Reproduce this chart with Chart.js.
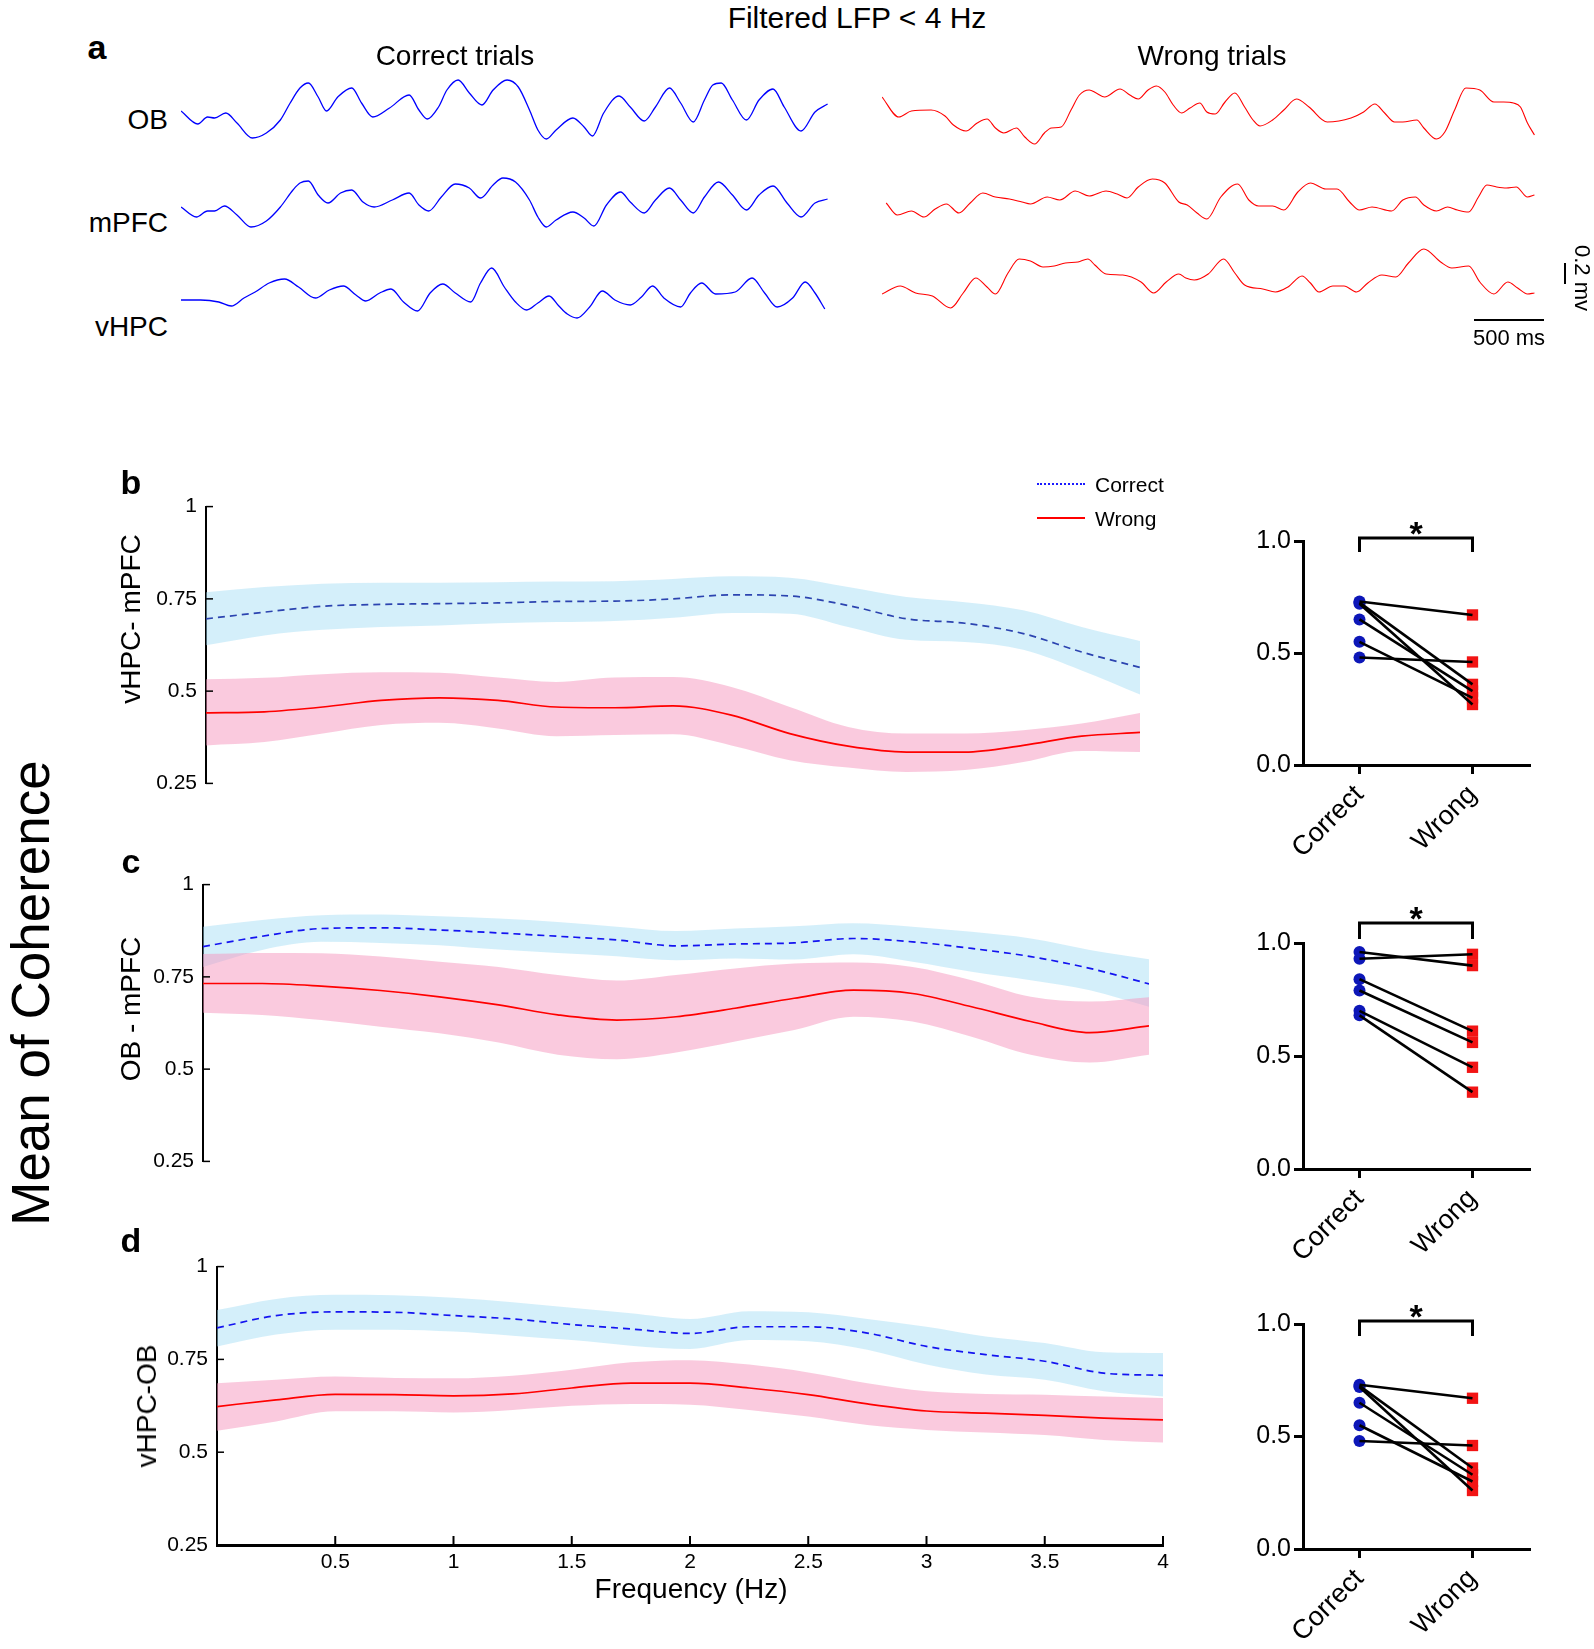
<!DOCTYPE html>
<html>
<head>
<meta charset="utf-8">
<script src="https://cdn.jsdelivr.net/npm/chart.js@4.4.1/dist/chart.umd.min.js"></script>
<style>
  body { margin: 0; background: #fff; width: 1594px; height: 1649px; position: relative; overflow: hidden;
         font-family: "Liberation Sans", Arial, sans-serif; color: #000; }
  canvas { position: absolute; }
  .t { position: absolute; white-space: nowrap; line-height: 1; }
  .bar { position: absolute; background: #000; }
</style>
</head>
<body>
<script>
// ---------- panel a: filtered LFP traces, [time ms, amplitude mV] ----------
const correctOB = [[0,-0.01],[120,-0.14],[190,-0.07],[240,-0.08],[320,-0.03],[400,-0.13],[510,-0.28],[610,-0.23],[710,-0.10],[780,0.07],[850,0.22],[910,0.27],[980,0.13],[1040,-0.01],[1120,0.13],[1220,0.22],[1290,0.07],[1370,-0.07],[1490,0.02],[1630,0.15],[1700,0.00],[1760,-0.09],[1840,0.03],[1900,0.20],[1980,0.30],[2060,0.17],[2150,0.05],[2230,0.20],[2330,0.30],[2410,0.23],[2490,0.00],[2550,-0.20],[2610,-0.29],[2680,-0.20],[2800,-0.08],[2880,-0.17],[2940,-0.26],[3020,-0.03],[3130,0.14],[3210,0.03],[3310,-0.11],[3390,0.03],[3490,0.22],[3570,0.07],[3660,-0.12],[3740,0.10],[3800,0.25],[3860,0.27],[3940,0.10],[4040,-0.10],[4130,0.10],[4230,0.21],[4310,0.03],[4430,-0.21],[4530,-0.02],[4620,0.06]];
const correctMPFC = [[0,-0.07],[110,-0.17],[190,-0.11],[240,-0.11],[310,-0.06],[400,-0.15],[500,-0.27],[610,-0.21],[710,-0.07],[800,0.10],[850,0.17],[910,0.19],[980,0.05],[1050,-0.03],[1140,0.07],[1220,0.10],[1300,-0.02],[1380,-0.07],[1510,0.00],[1630,0.07],[1700,-0.05],[1770,-0.11],[1860,0.03],[1960,0.16],[2060,0.12],[2140,0.02],[2230,0.15],[2300,0.22],[2390,0.18],[2490,0.00],[2550,-0.17],[2610,-0.27],[2680,-0.20],[2800,-0.12],[2880,-0.18],[2950,-0.26],[3040,-0.05],[3140,0.08],[3210,-0.02],[3310,-0.13],[3390,0.00],[3490,0.12],[3570,0.00],[3660,-0.13],[3740,0.03],[3840,0.18],[3940,0.05],[4040,-0.10],[4130,0.05],[4230,0.14],[4330,-0.03],[4430,-0.17],[4530,-0.03],[4620,0.01]];
const correctVHPC = [[0,-0.10],[140,-0.10],[270,-0.12],[360,-0.16],[450,-0.08],[530,-0.02],[630,0.07],[740,0.11],[840,0.03],[960,-0.08],[1060,0.00],[1160,0.04],[1250,-0.05],[1320,-0.11],[1420,-0.03],[1500,0.01],[1590,-0.12],[1690,-0.21],[1780,-0.03],[1870,0.06],[1960,-0.03],[2070,-0.12],[2140,0.07],[2220,0.22],[2310,0.03],[2390,-0.12],[2470,-0.20],[2550,-0.13],[2630,-0.06],[2700,-0.16],[2760,-0.24],[2830,-0.28],[2920,-0.17],[3010,-0.01],[3100,-0.10],[3210,-0.15],[3290,-0.07],[3370,0.04],[3450,-0.08],[3570,-0.17],[3640,-0.03],[3720,0.07],[3820,-0.04],[3960,-0.02],[4080,0.12],[4170,-0.03],[4260,-0.17],[4370,-0.08],[4460,0.08],[4530,-0.03],[4600,-0.19]];
const wrongOB = [[0,0.13],[120,-0.07],[210,-0.01],[350,0.00],[450,-0.06],[510,-0.15],[600,-0.21],[680,-0.13],[750,-0.09],[810,-0.18],[870,-0.23],[960,-0.18],[1020,-0.27],[1090,-0.34],[1160,-0.23],[1210,-0.18],[1280,-0.17],[1350,0.00],[1410,0.15],[1480,0.20],[1530,0.17],[1590,0.13],[1700,0.21],[1770,0.15],[1830,0.11],[1900,0.20],[1960,0.24],[2020,0.18],[2080,0.05],[2140,-0.03],[2200,0.02],[2270,0.07],[2320,-0.02],[2380,-0.04],[2450,0.08],[2520,0.17],[2590,0.03],[2650,-0.10],[2700,-0.16],[2790,-0.10],[2870,0.00],[2960,0.11],[3050,0.03],[3180,-0.12],[3350,-0.08],[3440,-0.02],[3520,0.06],[3590,-0.03],[3660,-0.12],[3720,-0.12],[3820,-0.10],[3870,-0.18],[3960,-0.29],[4020,-0.22],[4090,0.00],[4170,0.22],[4270,0.20],[4370,0.08],[4440,0.08],[4510,0.07],[4560,0.03],[4610,-0.13],[4660,-0.25]];
const wrongMPFC = [[30,-0.03],[110,-0.15],[210,-0.11],[300,-0.17],[380,-0.09],[460,-0.04],[550,-0.13],[630,-0.03],[720,0.07],[810,0.03],[910,0.01],[1000,-0.02],[1060,-0.04],[1180,0.03],[1270,0.00],[1380,0.09],[1480,0.04],[1600,0.09],[1680,0.06],[1750,0.02],[1830,0.13],[1930,0.21],[2020,0.17],[2120,-0.02],[2180,-0.05],[2250,-0.13],[2320,-0.19],[2420,0.03],[2540,0.16],[2620,0.00],[2690,-0.06],[2790,-0.06],[2870,-0.10],[2970,0.08],[3060,0.17],[3170,0.11],[3250,0.11],[3340,-0.02],[3410,-0.10],[3500,-0.07],[3640,-0.11],[3720,0.00],[3810,0.03],[3870,-0.05],[3960,-0.11],[4040,-0.07],[4110,-0.10],[4190,-0.12],[4260,0.03],[4320,0.15],[4390,0.13],[4460,0.12],[4530,0.13],[4610,0.03],[4660,0.05]];
const wrongVHPC = [[0,-0.14],[130,-0.06],[240,-0.13],[360,-0.16],[490,-0.28],[580,-0.13],[670,0.02],[750,-0.07],[810,-0.14],[900,0.07],[980,0.21],[1060,0.19],[1150,0.13],[1230,0.14],[1310,0.17],[1400,0.18],[1470,0.21],[1520,0.15],[1600,0.06],[1720,0.05],[1850,-0.02],[1940,-0.13],[2030,-0.02],[2120,0.06],[2170,0.02],[2230,0.00],[2330,0.06],[2440,0.21],[2520,0.07],[2590,-0.05],[2720,-0.09],[2810,-0.12],[2900,-0.07],[3000,0.04],[3060,-0.03],[3120,-0.12],[3220,-0.06],[3300,-0.06],[3390,-0.12],[3470,-0.03],[3570,0.05],[3670,0.03],[3760,0.17],[3870,0.31],[3990,0.18],[4070,0.12],[4190,0.14],[4270,-0.02],[4370,-0.14],[4470,-0.02],[4540,-0.08],[4610,-0.14],[4660,-0.13]];

// ---------- panels b-d: mean coherence vs frequency ----------
const freqs = [0,0.25,0.5,0.75,1,1.25,1.5,1.75,2,2.25,2.5,2.75,3,3.25,3.5,3.75,4];
const freqYTicks = ['0.25','0.5','0.75','1'];
const freqXTicks = ['','0.5','1','1.5','2','2.5','3','3.5','4'];

const bCorrect   = [0.696,0.714,0.730,0.735,0.737,0.739,0.743,0.744,0.750,0.761,0.758,0.732,0.696,0.684,0.656,0.606,0.564];
const bCorrectHi = [0.768,0.782,0.791,0.794,0.794,0.795,0.797,0.798,0.804,0.811,0.807,0.782,0.755,0.741,0.719,0.674,0.636];
const bCorrectLo = [0.624,0.651,0.666,0.674,0.678,0.684,0.687,0.690,0.699,0.712,0.710,0.674,0.639,0.633,0.612,0.556,0.491];
const bWrong     = [0.441,0.444,0.457,0.475,0.482,0.475,0.457,0.455,0.460,0.435,0.385,0.351,0.335,0.335,0.353,0.378,0.388];
const bWrongHi   = [0.532,0.536,0.546,0.551,0.550,0.537,0.525,0.537,0.538,0.511,0.457,0.403,0.385,0.385,0.394,0.412,0.441];
const bWrongLo   = [0.353,0.362,0.385,0.408,0.414,0.399,0.378,0.381,0.383,0.353,0.313,0.293,0.281,0.286,0.308,0.338,0.335];

const cCorrect   = [0.832,0.860,0.881,0.883,0.877,0.869,0.860,0.850,0.834,0.839,0.842,0.854,0.845,0.827,0.805,0.773,0.731];
const cCorrectHi = [0.886,0.904,0.917,0.919,0.914,0.908,0.899,0.886,0.874,0.881,0.887,0.895,0.886,0.872,0.854,0.823,0.798];
const cCorrectLo = [0.777,0.823,0.845,0.842,0.836,0.824,0.815,0.806,0.795,0.800,0.797,0.811,0.791,0.764,0.741,0.714,0.669];
const cWrong     = [0.732,0.732,0.725,0.713,0.696,0.674,0.647,0.633,0.642,0.665,0.692,0.714,0.705,0.669,0.629,0.599,0.617];
const cWrongHi   = [0.812,0.815,0.814,0.805,0.791,0.777,0.755,0.740,0.755,0.773,0.786,0.789,0.777,0.741,0.696,0.683,0.695];
const cWrongLo   = [0.653,0.647,0.633,0.615,0.597,0.572,0.539,0.527,0.545,0.575,0.606,0.642,0.629,0.588,0.539,0.518,0.539];

const dCorrect   = [0.835,0.868,0.878,0.877,0.868,0.859,0.844,0.832,0.820,0.838,0.838,0.821,0.785,0.763,0.745,0.713,0.707];
const dCorrectHi = [0.883,0.913,0.924,0.923,0.916,0.904,0.889,0.874,0.859,0.880,0.877,0.859,0.838,0.812,0.794,0.769,0.767];
const dCorrectLo = [0.785,0.817,0.830,0.830,0.825,0.814,0.802,0.787,0.778,0.802,0.799,0.776,0.736,0.709,0.695,0.664,0.650];
const dWrong     = [0.623,0.641,0.656,0.655,0.652,0.657,0.673,0.686,0.686,0.673,0.655,0.630,0.611,0.605,0.599,0.592,0.587];
const dWrongHi   = [0.686,0.695,0.704,0.700,0.699,0.706,0.722,0.742,0.748,0.736,0.715,0.686,0.664,0.657,0.655,0.650,0.646];
const dWrongLo   = [0.558,0.583,0.610,0.610,0.607,0.614,0.625,0.630,0.628,0.614,0.596,0.573,0.560,0.553,0.546,0.533,0.526];

// ---------- right column: per-animal mean coherence ----------
const pairCats = ['Correct', 'Wrong'];
const pairYTicks = ['0.0', '0.5', '1.0'];
const bPairCorrect = [0.73, 0.725, 0.72, 0.65, 0.55, 0.48];
const bPairWrong   = [0.67, 0.36, 0.27, 0.33, 0.30, 0.46];
const cPairCorrect = [0.96, 0.93, 0.84, 0.79, 0.70, 0.68];
const cPairWrong   = [0.90, 0.95, 0.61, 0.56, 0.45, 0.34];
const dPairCorrect = [0.73, 0.725, 0.72, 0.65, 0.55, 0.48];
const dPairWrong   = [0.67, 0.36, 0.26, 0.33, 0.30, 0.46];

// ---------- colours ----------
const blueBand = 'rgba(160,220,245,0.45)';
const pinkBand = 'rgba(245,150,190,0.5)';
const dotBlue = '#0d17b8';
const dotRed = '#f21414';

Chart.defaults.font.family = '"Liberation Sans", Arial, sans-serif';
Chart.defaults.color = '#000';
Chart.defaults.animation = false;
Chart.defaults.responsive = false;
Chart.defaults.devicePixelRatio = 1;
Chart.defaults.plugins.legend.display = false;
Chart.defaults.plugins.tooltip.enabled = false;

function makeCanvas(left, top, w, h) {
  const c = document.createElement('canvas');
  c.width = w; c.height = h;
  c.style.left = left + 'px'; c.style.top = top + 'px';
  c.style.width = w + 'px'; c.style.height = h + 'px';
  document.body.appendChild(c);
  return c;
}

function traceChart(left, width, xMax, traces, offsets, color, lw) {
  new Chart(makeCanvas(left, 60, width, 280), {
    type: 'line',
    data: {
      datasets: traces.map((tr, i) => ({
        data: tr.map(p => ({ x: p[0], y: p[1] + offsets[i] })),
        borderColor: color, borderWidth: lw, pointRadius: 0,
        cubicInterpolationMode: 'monotone', fill: false
      }))
    },
    options: {
      layout: { padding: 0 },
      scales: {
        x: { type: 'linear', display: false, min: 0, max: xMax },
        y: { type: 'linear', display: false, min: -2.8, max: 0 }
      }
    }
  });
}

// MATLAB-style ticks pointing into the plot
const innerTicks = {
  id: 'innerTicks',
  afterDraw(chart, args, opts) {
    const { ctx, chartArea: a, scales: { x, y } } = chart;
    ctx.save();
    ctx.strokeStyle = '#000';
    ctx.lineWidth = 1.5;
    y.ticks.forEach(t => {
      const py = y.getPixelForValue(t.value);
      ctx.beginPath(); ctx.moveTo(a.left, py); ctx.lineTo(a.left + 7, py); ctx.stroke();
    });
    if (opts.x) {
      ctx.lineWidth = 2;
      x.ticks.forEach(t => {
        const px = x.getPixelForValue(t.value);
        ctx.beginPath(); ctx.moveTo(px, a.bottom); ctx.lineTo(px, a.bottom - 9); ctx.stroke();
      });
    }
    ctx.restore();
  }
};

// y tick labels reserve half a line + padding above and below the plot (~21px)
function freqChart(cfg) {
  const pts = arr => freqs.map((f, i) => ({ x: f, y: arr[i] }));
  const none = 'rgba(0,0,0,0)';
  new Chart(makeCanvas(cfg.left, cfg.top, cfg.w, cfg.h), {
    type: 'line',
    data: {
      datasets: [
        { data: pts(cfg.wrong), borderColor: '#ff0000', borderWidth: 1.7 },
        { data: pts(cfg.correct), borderColor: cfg.blue, borderWidth: 1.7, borderDash: [7, 5] },
        { data: pts(cfg.wrongHi), borderColor: none, borderWidth: 1, fill: '+1', backgroundColor: pinkBand },
        { data: pts(cfg.wrongLo), borderColor: none, borderWidth: 1 },
        { data: pts(cfg.correctHi), borderColor: none, borderWidth: 1, fill: '+1', backgroundColor: blueBand },
        { data: pts(cfg.correctLo), borderColor: none, borderWidth: 1 }
      ]
    },
    options: {
      elements: { point: { radius: 0 }, line: { cubicInterpolationMode: 'monotone', fill: false } },
      layout: { padding: { top: 0, right: 20, bottom: 0, left: 0 } },
      scales: {
        x: {
          type: 'linear', min: 0, max: 4, display: cfg.showX,
          grid: { display: false, drawTicks: false },
          border: { color: '#000', width: 3 },
          ticks: { stepSize: 0.5, padding: 5, font: { size: 21 }, maxRotation: 0, autoSkip: false,
                   callback: v => freqXTicks[Math.round(v / 0.5)] },
          afterFit: s => { if (cfg.showX) s.height = 80; }
        },
        y: {
          type: 'linear', min: 0.25, max: 1,
          grid: { display: false, drawTicks: false },
          border: { color: '#000', width: 2 },
          ticks: { stepSize: 0.25, padding: 9, font: { size: 21 },
                   callback: v => freqYTicks[Math.round((v - 0.25) / 0.25)] },
          afterFit: s => { s.width = 66; }
        }
      },
      plugins: { innerTicks: { x: cfg.showX } }
    },
    plugins: [innerTicks]
  });
}

// significance bracket with star
const bracket = {
  id: 'bracket',
  afterDraw(chart, args, o) {
    const { ctx, scales: { x, y } } = chart;
    const x0 = x.getPixelForValue(0), x1 = x.getPixelForValue(1);
    const yt = y.getPixelForValue(o.top), yl = y.getPixelForValue(o.leg);
    ctx.save();
    ctx.strokeStyle = '#000'; ctx.lineWidth = 3;
    ctx.beginPath(); ctx.moveTo(x0, yl); ctx.lineTo(x0, yt); ctx.lineTo(x1, yt); ctx.lineTo(x1, yl); ctx.stroke();
    ctx.fillStyle = '#000';
    ctx.font = 'bold 34px "Liberation Sans", Arial, sans-serif';
    ctx.textAlign = 'center'; ctx.textBaseline = 'middle';
    ctx.fillText('*', (x0 + x1) / 2, yt - 2);
    ctx.restore();
  }
};

function pairChart(cfg) {
  const lines = cfg.correct.map((c, i) => ({
    data: [c, cfg.wrong[i]], borderColor: '#000', borderWidth: 2.6, pointRadius: 0
  }));
  new Chart(makeCanvas(1215, cfg.top, 340, cfg.h), {
    type: 'line',
    data: {
      labels: pairCats,
      datasets: [
        ...lines,
        { data: cfg.correct.map(v => ({ x: pairCats[0], y: v })), showLine: false, pointStyle: 'circle',
          pointRadius: 6, pointBackgroundColor: dotBlue, pointBorderColor: dotBlue, pointBorderWidth: 0 },
        { data: cfg.wrong.map(v => ({ x: pairCats[1], y: v })), showLine: false, pointStyle: 'rect',
          pointRadius: 8, pointBackgroundColor: dotRed, pointBorderColor: dotRed, pointBorderWidth: 0 }
      ]
    },
    options: {
      layout: { padding: { top: cfg.padTop, right: 26, left: 0, bottom: 0 } },
      scales: {
        x: {
          type: 'category', offset: true,
          grid: { display: true, drawOnChartArea: false, drawTicks: true, tickLength: 9, color: '#000', lineWidth: 3, offset: false },
          border: { color: '#000', width: 3 },
          ticks: { font: { size: 27 }, minRotation: 45, maxRotation: 45, padding: 5, autoSkip: false },
          afterFit: s => { s.height = cfg.xh; }
        },
        y: {
          type: 'linear', min: 0, max: 1,
          grid: { display: true, drawOnChartArea: false, drawTicks: true, tickLength: 9, color: '#000', lineWidth: 3 },
          border: { color: '#000', width: 3 },
          ticks: { stepSize: 0.5, padding: 3, font: { size: 25 }, callback: v => pairYTicks[Math.round(v * 2)] },
          afterFit: s => { s.width = 88; }
        }
      },
      plugins: { bracket: { top: cfg.bTop, leg: cfg.bLeg } }
    },
    plugins: [bracket]
  });
}

function txt(s, x, y, size, o = {}) {
  const d = document.createElement('div');
  d.className = 't';
  d.textContent = s;
  d.style.left = x + 'px';
  d.style.top = y + 'px';
  d.style.fontSize = size + 'px';
  if (o.bold) d.style.fontWeight = 'bold';
  const ax = o.align === 'right' ? '-100%' : o.align === 'left' ? '0' : '-50%';
  d.style.transform = 'translate(' + ax + ',-50%)' + (o.rot ? ' rotate(' + o.rot + 'deg)' : '');
  document.body.appendChild(d);
}

function bar(left, top, w, h, style) {
  const d = document.createElement('div');
  d.className = 'bar';
  d.style.left = left + 'px'; d.style.top = top + 'px';
  d.style.width = w + 'px'; d.style.height = h + 'px';
  if (style) Object.assign(d.style, style);
  document.body.appendChild(d);
}

// ---- panel a ----
traceChart(181, 648, 4630, [correctOB, correctMPFC, correctVHPC], [-0.5, -1.4, -2.3], '#0000ff', 1.3);
traceChart(882, 653, 4664, [wrongOB, wrongMPFC, wrongVHPC], [-0.5, -1.4, -2.2], '#ff0000', 1.1);

// ---- panels b, c, d ----
freqChart({ left: 140, top: 485, w: 1020, h: 320, showX: false, blue: '#2c44b0',
  correct: bCorrect, correctHi: bCorrectHi, correctLo: bCorrectLo, wrong: bWrong, wrongHi: bWrongHi, wrongLo: bWrongLo });
freqChart({ left: 137, top: 863, w: 1032, h: 320, showX: false, blue: '#1414f0',
  correct: cCorrect, correctHi: cCorrectHi, correctLo: cCorrectLo, wrong: cWrong, wrongHi: cWrongHi, wrongLo: cWrongLo });
freqChart({ left: 151, top: 1245, w: 1032, h: 380, showX: true, blue: '#1414f0',
  correct: dCorrect, correctHi: dCorrectHi, correctLo: dCorrectLo, wrong: dWrong, wrongHi: dWrongHi, wrongLo: dWrongLo });

pairChart({ top: 500, h: 400, padTop: 41, xh: 135, bTop: 1.013, bLeg: 0.951, correct: bPairCorrect, wrong: bPairWrong });
pairChart({ top: 895, h: 400, padTop: 48, xh: 126, bTop: 1.088, bLeg: 1.018, correct: cPairCorrect, wrong: cPairWrong });
pairChart({ top: 1280, h: 369, padTop: 44, xh: 100, bTop: 1.013, bLeg: 0.947, correct: dPairCorrect, wrong: dPairWrong });

// ---- text ----
txt('Filtered LFP < 4 Hz', 857, 18, 30);
txt('a', 97, 47, 34, { bold: true });
txt('Correct trials', 455, 56, 28);
txt('Wrong trials', 1212, 56, 28);
txt('OB', 168, 120, 28, { align: 'right' });
txt('mPFC', 168, 223, 28, { align: 'right' });
txt('vHPC', 168, 327, 28, { align: 'right' });
bar(1474, 319, 70, 2);
bar(1564, 263, 2, 21);
txt('500 ms', 1509, 338, 22);
txt('0.2 mv', 1582, 278, 22, { rot: 90 });

txt('b', 131, 482, 34, { bold: true });
txt('c', 131, 861, 34, { bold: true });
txt('d', 131, 1240, 34, { bold: true });
txt('vHPC- mPFC', 131, 619, 28, { rot: -90 });
txt('OB - mPFC', 131, 1009, 28, { rot: -90 });
txt('vHPC-OB', 147, 1406, 28, { rot: -90 });
txt('Mean of Coherence', 30, 993, 53, { rot: -90 });
txt('Frequency (Hz)', 691, 1589, 28);

// legend of panel b
bar(1037, 483, 48, 0, { background: 'none', borderTop: '2.5px dotted #1a1aff' });
bar(1037, 517, 48, 2, { background: '#ff0000' });
txt('Correct', 1095, 484, 21, { align: 'left' });
txt('Wrong', 1095, 518, 21, { align: 'left' });
</script>
</body>
</html>
